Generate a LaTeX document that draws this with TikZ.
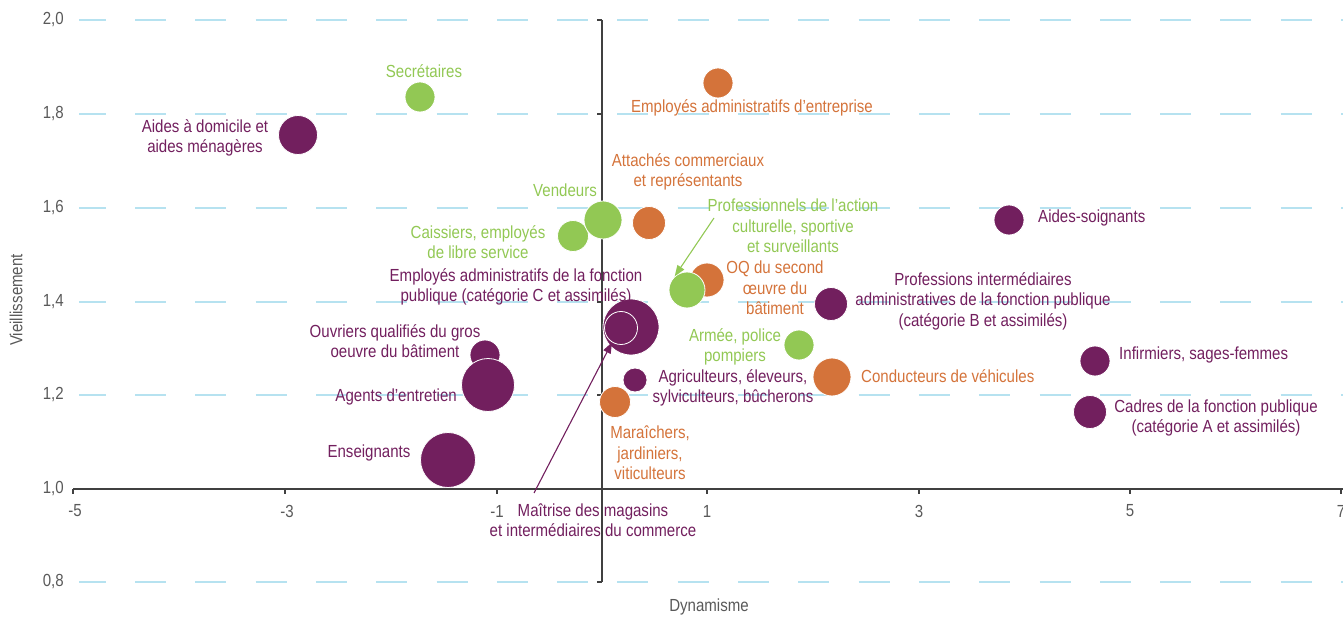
\documentclass[tikz,border=0pt]{standalone}
\usepackage{fontspec}
\setmainfont{Liberation Sans}[FakeStretch=0.86]
\usetikzlibrary{arrows.meta}
\definecolor{cpur}{RGB}{114,31,94}
\definecolor{cgrn}{RGB}{146,200,84}
\definecolor{corg}{RGB}{212,115,58}
\definecolor{cgrid}{RGB}{182,226,240}
\definecolor{ctxt}{RGB}{89,89,89}
\definecolor{caxis}{RGB}{64,64,64}
\begin{document}
\begin{tikzpicture}[x=1pt,y=-1pt,
  bub/.style={circle, draw=white, line width=0.8pt, inner sep=0pt, minimum size=#1},
  pb/.style={bub=#1, fill=cpur},
  gb/.style={bub=#1, fill=cgrn},
  ob/.style={bub=#1, fill=corg},
  lab/.style={font=\fontsize{17.5}{20.5}\selectfont, align=center, inner sep=0pt},
  pl/.style={lab, text=cpur},
  gl/.style={lab, text=cgrn},
  ol/.style={lab, text=corg},
  tick/.style={font=\fontsize{17.5}{20}\selectfont, text=ctxt, inner sep=0pt},
  grid/.style={cgrid, line width=1.2pt, dash pattern=on 31pt off 29.3pt, dash phase=4.3pt},
  axis/.style={caxis, line width=1.1pt},
  pointer/.style={line width=1.1pt, -{Triangle[length=11pt,width=8pt]}}
]
\useasboundingbox (0,0) rectangle (1343,617);
% grid lines
\foreach \y in {20,114,208,302,395,582} \draw[grid] (79,\y) -- (1343,\y);
% axes
\draw[axis] (73,489) -- (1343,489);
\draw[axis] (602,20) -- (602,582);
\foreach \x in {73,285,497,707,919,1130,1341} \draw[axis] (\x,489) -- (\x,494);
\foreach \y in {20,114,208,302,395,489,582} \draw[axis] (597,\y) -- (602,\y);
% tick labels
\foreach \y/\t in {20/{2,0},114/{1,8},208/{1,6},302/{1,4},395/{1,2},489/{1,0},582/{0,8}}
  \node[tick, anchor=east] (ty\y) at (64,\y) {\t};
\foreach \x/\t in {75/-5,287/-3,497/-1,707/1,919/3,1130/5,1341/7}
  \node[tick] (tx\x) at (\x,511) {\t};
\node[tick, rotate=90] (ytitle) at (16,300) {Vieillissement};
\node[tick] (xtitle) at (709,607) {Dynamisme};
% bubbles
\node[gb=30] (secr) at (420,97) {};
\node[pb=39] (aidom) at (298,135) {};
\node[ob=30] (empent) at (718,83) {};
\node[ob=33] (attach) at (649,223) {};
\node[gb=31] (caiss) at (573,236) {};
\node[gb=38] (vend) at (603,220) {};
\node[ob=34] (oq) at (707,280) {};
\node[gb=36] (prof) at (687,290) {};
\node[pb=33] (profint) at (831,304) {};
\node[pb=30] (aidsoig) at (1009,220) {};
\node[pb=30] (infirm) at (1095,361) {};
\node[pb=33] (cadres) at (1090,412) {};
\node[ob=38] (conduc) at (832,377) {};
\node[gb=30] (armee) at (799,345) {};
\node[pb=56] (empfp) at (631,327) {};
\node[pb=33] (mait) at (621,328) {};
\node[pb=30] (ouvr) at (485,355) {};
\node[pb=53] (agents) at (488,385) {};
\node[pb=55] (enseig) at (448,460) {};
\node[pb=24] (agri) at (635,380) {};
\node[ob=31] (marai) at (615,402) {};
% labels
\node[gl] (lsecr) at (424,71) {Secrétaires};
\node[pl] (laidom) at (205,138) {Aides à domicile et\\aides ménagères};
\node[ol] (lempent) at (752,108) {Employés administratifs d'entreprise};
\node[ol] (lattach) at (688,172) {Attachés commerciaux\\et représentants};
\node[gl] (lvend) at (565,190) {Vendeurs};
\node[gl] (lcaiss) at (478,242) {Caissiers, employés\\de libre service};
\node[gl] (lprof) at (793,226) {Professionnels de l'action\\culturelle, sportive\\et surveillants};
\node[ol] (loq) at (775,288) {OQ du second\\œuvre du\\bâtiment};
\node[pl] (lprofint) at (983,301) {Professions intermédiaires\\administratives de la fonction publique\\(catégorie B et assimilés)};
\node[pl, anchor=west] (laidsoig) at (1038,218) {Aides-soignants};
\node[pl, anchor=west] (linfirm) at (1119,355) {Infirmiers, sages-femmes};
\node[pl] (lcadres) at (1216,418) {Cadres de la fonction publique\\(catégorie A et assimilés)};
\node[ol, anchor=west] (lconduc) at (861,376) {Conducteurs de véhicules};
\node[gl] (larmee) at (735,347) {Armée, police\\pompiers};
\node[pl] (lempfp) at (516,287) {Employés administratifs de la fonction\\publique (catégorie C et assimilés)};
\node[pl] (louvr) at (395,341) {Ouvriers qualifiés du gros\\oeuvre du bâtiment};
\node[pl, anchor=east] (lagents) at (457,397) {Agents d'entretien};
\node[pl] (lenseig) at (369,453) {Enseignants};
\node[pl] (lagri) at (733,388) {Agriculteurs, éleveurs,\\sylviculteurs, bûcherons};
\node[ol] (lmarai) at (650,453) {Maraîchers,\\jardiniers,\\viticulteurs};
\node[pl] (lmait) at (593,520) {Maîtrise des magasins\\et intermédiaires du commerce};
% pointers
\coordinate (mtail) at (534,493);
\coordinate (ptail) at (714,218);
\draw[pointer, cpur] (mtail) -- (mait.238);
\draw[pointer, cgrn] (ptail) -- (prof.132);
\end{tikzpicture}
\end{document}
